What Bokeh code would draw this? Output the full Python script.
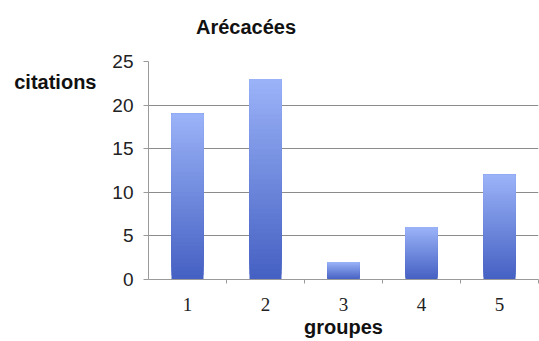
from bokeh.plotting import figure
from bokeh.models import FixedTicker, Range1d, ColumnDataSource, LinearAxis
from bokeh.embed import file_html
from bokeh.resources import INLINE

# Number of citations of Arécacées per group
groups = [1, 2, 3, 4, 5]
citations = [19, 23, 2, 6, 12]
group_labels = ["1", "2", "3", "4", "5"]
y_ticks = [0, 5, 10, 15, 20, 25]
chart_title = "Arécacées"

TOP_COLOR = (0x9B, 0xB3, 0xF8)
BOTTOM_COLOR = (0x44, 0x60, 0xC2)
BAR_WIDTH = 0.41
STEPS = 40
HEAD_FONT = "20px"
TICK_FONT = "19px"


def mix(t):
    r, g, b = (round(BOTTOM_COLOR[i] + (TOP_COLOR[i] - BOTTOM_COLOR[i]) * t) for i in range(3))
    return f"#{r:02x}{g:02x}{b:02x}"


def text_axis(tick, label, standoff):
    """An axis carrying a single bold label and nothing else."""
    ax = LinearAxis(ticker=FixedTicker(ticks=[tick]), major_label_overrides={tick: label})
    ax.axis_line_color = None
    ax.major_tick_line_color = None
    ax.minor_tick_line_color = None
    ax.major_tick_out = 0
    ax.major_tick_in = 0
    ax.major_label_text_font = "Liberation Sans"
    ax.major_label_text_font_style = "bold"
    ax.major_label_text_font_size = HEAD_FONT
    ax.major_label_text_color = "#111111"
    ax.major_label_standoff = standoff
    return ax


# Each bar is filled with a vertical gradient: overlapping layers, each starting
# a little higher and a little lighter than the one beneath it
left, right, bottom, top, colors = [], [], [], [], []
for k in range(STEPS):
    for g, v in zip(groups, citations):
        left.append(g - BAR_WIDTH / 2)
        right.append(g + BAR_WIDTH / 2)
        bottom.append(v * k / STEPS)
        top.append(v)
        colors.append(mix((k + 0.5) / STEPS))
src = ColumnDataSource(dict(left=left, right=right, bottom=bottom, top=top, color=colors))

p = figure(width=539, height=341, output_backend="svg", toolbar_location=None,
           x_range=Range1d(0.5, 5.5), y_range=Range1d(0, 25))
p.min_border_left = 148
p.min_border_right = 1
p.min_border_top = 61
p.min_border_bottom = 62
p.outline_line_color = None
p.background_fill_color = "white"

p.quad(left="left", right="right", bottom="bottom", top="top", fill_color="color",
       line_color=None, source=src)

# Value axis
ya = p.left[0]
ya.ticker = FixedTicker(ticks=y_ticks)
ya.major_label_text_font = "Liberation Sans"
ya.major_label_text_font_size = TICK_FONT
ya.major_label_text_color = "#222222"
ya.axis_line_color = "#9a9a9a"
ya.major_tick_line_color = "#9a9a9a"
ya.major_tick_out = 5
ya.major_tick_in = 0
ya.minor_tick_line_color = None
ya.major_label_standoff = 10

# Group axis: numbers under each bar, tick marks between groups
xa = p.below[0]
xa.ticker = FixedTicker(ticks=groups, minor_ticks=[1.5, 2.5, 3.5, 4.5, 5.5])
xa.major_label_overrides = {g: lab for g, lab in zip(groups, group_labels)}
xa.major_label_text_font = "Liberation Serif"
xa.major_label_text_font_size = TICK_FONT
xa.major_label_text_color = "#222222"
xa.major_label_standoff = 14
xa.axis_line_color = "#9a9a9a"
xa.major_tick_line_color = None
xa.major_tick_out = 4
xa.major_tick_in = 0
xa.minor_tick_line_color = "#9a9a9a"
xa.minor_tick_out = 4
xa.minor_tick_in = 0
xa.axis_label = "groupes"
xa.axis_label_text_font = "Liberation Sans"
xa.axis_label_text_font_style = "bold"
xa.axis_label_text_font_size = HEAD_FONT
xa.axis_label_text_color = "#111111"
xa.axis_label_standoff = 2

# Chart title, above the first two groups
p.add_layout(text_axis(1.75, chart_title, 24), "above")

# Horizontal heading for the value axis, set level with the top of the scale
p.add_layout(text_axis(22.6, "citations", 13), "left")

p.xgrid.grid_line_color = None
p.ygrid.grid_line_color = "#8c8c8c"
p.ygrid.grid_line_width = 1

open("out.html", "w").write(file_html(p, INLINE))
